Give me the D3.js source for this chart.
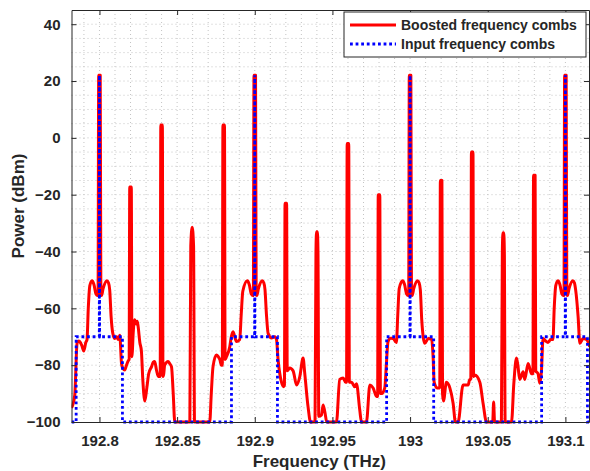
<!DOCTYPE html>
<html>
<head>
<meta charset="utf-8">
<script src="https://cdn.jsdelivr.net/npm/d3@7"></script>
<style>
  body { margin: 0; background: #fff; }
  text { font-family: "Liberation Sans", Arial, sans-serif; font-weight: bold; fill: #262626; }
</style>
</head>
<body>
<div id="chart"></div>
<script>
// Data (THz, dBm)
var boosted = [
  [192.7820,-95],[192.7828,-94],[192.7841,-90.5],[192.7856,-72.3],[192.7866,-71.5],[192.7873,-71.7],
  [192.7886,-73],[192.7899,-75],[192.7912,-72],[192.7920,-71],[192.7928,-60],[192.7938,-52],
  [192.7952,-50.3],[192.7964,-51.5],[192.7978,-55],[192.7988,-55.5],[192.7991,-55],[192.7995,22],
  [192.8005,22],[192.8009,-55],[192.8013,-55.5],[192.8024,-53],[192.8048,-50.3],[192.8058,-51],
  [192.8066,-53.5],[192.8075,-62.9],[192.8086,-68.8],[192.8099,-70.6],[192.8111,-70],[192.8121,-71],
  [192.8131,-69.5],[192.8142,-79.4],[192.8150,-81],[192.8163,-81.7],[192.8174,-80],[192.8185,-78.5],
  [192.8191,-78],[192.8195,-17.3],[192.8205,-17.3],[192.8209,-77],[192.8212,-75],[192.8216,-70],
  [192.8227,-64],[192.8237,-65.5],[192.8243,-64.5],[192.8249,-66.4],[192.8260,-72],[192.8270,-75],
  [192.8279,-85],[192.8292,-92.6],[192.8305,-88],[192.8317,-83],[192.8335,-80.6],[192.8346,-79],
  [192.8356,-78.7],[192.8367,-81.7],[192.8379,-84],[192.8391,-84],[192.8395,4.5],[192.8405,4.5],
  [192.8409,-84],[192.8414,-83],[192.8420,-80],[192.8442,-78.7],[192.8453,-79.5],[192.8464,-80.6],
  [192.8475,-90],[192.8485,-100],[192.8582,-100],[192.8588,-38],[192.8597,-31.5],[192.8606,-38],
  [192.8612,-100],[192.8710,-100],[192.8720,-90],[192.8731,-80.6],[192.8753,-76.4],[192.8765,-77],
  [192.8775,-78],[192.8785,-80],[192.8791,-80],[192.8795,4.5],[192.8805,4.5],[192.8809,-78],
  [192.8818,-77],[192.8839,-73.5],[192.8849,-70],[192.8860,-68.2],[192.8871,-70],[192.8882,-71.7],
  [192.8903,-71],[192.8913,-62],[192.8923,-54],[192.8952,-50.3],[192.8964,-51.5],[192.8978,-55],
  [192.8988,-55.5],[192.8991,-55],[192.8995,22],[192.9005,22],[192.9009,-55],[192.9013,-55.5],
  [192.9024,-53],[192.9048,-50.3],[192.9058,-51],[192.9066,-53.5],[192.9075,-62],[192.9086,-68.8],
  [192.9108,-70.4],[192.9129,-70],[192.9140,-71],[192.9150,-78],[192.9172,-86],[192.9187,-87.6],
  [192.9191,-87],[192.9195,-23],[192.9205,-23],[192.9209,-82],[192.9225,-81],[192.9247,-82],
  [192.9269,-87],[192.9290,-84],[192.9311,-77.5],[192.9322,-83],[192.9343,-94.6],[192.9359,-100],
  [192.9388,-100],[192.9394,-40],[192.9398,-33],[192.9403,-33],[192.9407,-40],[192.9412,-98],
  [192.9430,-97.5],[192.9440,-94],[192.9451,-96.4],[192.9464,-100],[192.9526,-100],[192.9547,-85],
  [192.9569,-84.5],[192.9584,-86],[192.9591,-86],[192.9595,-2],[192.9605,-2],[192.9609,-86],
  [192.9623,-86],[192.9644,-87.6],[192.9655,-86.5],[192.9676,-95.8],[192.9687,-100],[192.9719,-100],
  [192.9741,-87],[192.9762,-88],[192.9784,-91],[192.9791,-91],[192.9795,-20],[192.9805,-20],
  [192.9809,-90],[192.9818,-90],[192.9837,-88],[192.9847,-80],[192.9858,-71.7],[192.9875,-70.5],
  [192.9891,-70.6],[192.9912,-72],[192.9921,-62],[192.9930,-53],[192.9952,-50.3],[192.9964,-51.5],
  [192.9978,-55],[192.9988,-55.5],[192.9991,-55],[192.9995,22],[193.0005,22],[193.0009,-55],
  [193.0013,-55.5],[193.0024,-53],[193.0048,-50.3],[193.0058,-51],[193.0066,-53.5],[193.0075,-64],
  [193.0086,-70.6],[193.0095,-72.3],[193.0117,-70.6],[193.0139,-71],[193.0149,-78],[193.0155,-86],
  [193.0174,-88],[193.0191,-88],[193.0195,-15],[193.0205,-15],[193.0209,-90],[193.0215,-92.6],
  [193.0234,-86],[193.0256,-88],[193.0277,-93.4],[193.0292,-100],[193.0309,-100],[193.0341,-87],
  [193.0374,-87],[193.0384,-85],[193.0391,-85],[193.0395,-5],[193.0405,-5],[193.0409,-84],
  [193.0417,-83.5],[193.0449,-86],[193.0470,-93.4],[193.0492,-100],[193.0532,-100],[193.0538,-93],
  [193.0544,-100],[193.0588,-100],[193.0594,-40],[193.0598,-33.4],[193.0603,-33.4],[193.0607,-40],
  [193.0612,-100],[193.0653,-100],[193.0668,-86.4],[193.0685,-77.5],[193.0694,-80],[193.0706,-85],
  [193.0728,-82.3],[193.0738,-85],[193.0760,-79.4],[193.0782,-83],[193.0791,-83],[193.0795,-13.2],
  [193.0805,-13.2],[193.0809,-82],[193.0824,-83],[193.0835,-86.4],[193.0846,-82],[193.0856,-70.6],
  [193.0873,-71.5],[193.0888,-72],[193.0905,-71],[193.0920,-71],[193.0928,-60],[193.0938,-52],
  [193.0952,-50.3],[193.0964,-51.5],[193.0978,-55],[193.0988,-55.5],[193.0991,-55],[193.0995,22],
  [193.1005,22],[193.1009,-55],[193.1013,-55.5],[193.1024,-53],[193.1048,-50.3],[193.1058,-51],
  [193.1066,-53.5],[193.1082,-63],[193.1093,-72.3],[193.1114,-70.6],[193.1136,-71],[193.1157,-73.5]
];

var input = [
  [192.7820,-100],[192.7850,-100],[192.7850,-70],[192.7999,-70],[192.8000,22],[192.8001,-70],
  [192.8148,-70],[192.8148,-100],[192.8850,-100],[192.8850,-70],[192.8999,-70],[192.9000,22],
  [192.9001,-70],[192.9146,-70],[192.9146,-100],[192.9849,-100],[192.9849,-70],[192.9999,-70],
  [193.0000,22],[193.0001,-70],[193.0152,-70],[193.0152,-100],[193.0847,-100],[193.0847,-70],
  [193.0999,-70],[193.1000,22],[193.1001,-70],[193.1142,-70],[193.1142,-100],[193.1170,-100]
];

var xTicks = [192.8, 192.85, 192.9, 192.95, 193, 193.05, 193.1];
var xTickLabels = ["192.8", "192.85", "192.9", "192.95", "193", "193.05", "193.1"];
var yTicks = [-100, -80, -60, -40, -20, 0, 20, 40];
var seriesNames = ["Boosted frequency combs", "Input frequency combs"];

var svgWidth = 590;
var svgHeight = 471;
var margin = { top: 10, right: 1, bottom: 49, left: 71.5 };
var width = svgWidth - margin.left - margin.right;
var height = svgHeight - margin.top - margin.bottom;

var svg = d3.select("#chart")
  .append("svg")
  .attr("width", svgWidth)
  .attr("height", svgHeight);

var chartGroup = svg.append("g")
  .attr("transform", `translate(${margin.left}, ${margin.top})`);

var xScale = d3.scaleLinear().domain([192.782, 193.1152]).range([0, width]);
var yScale = d3.scaleLinear().domain([-100, 45]).range([height, 0]);

// dotted grid (minor spacing)
var gridColor = "#c4c4c4";
chartGroup.append("g").selectAll("line")
  .data(d3.range(192.79, 193.115, 0.01))
  .enter().append("line")
  .attr("x1", d => xScale(d)).attr("x2", d => xScale(d))
  .attr("y1", 0).attr("y2", height)
  .attr("stroke", gridColor).attr("stroke-width", 1).attr("stroke-dasharray", "1,3");

chartGroup.append("g").selectAll("line")
  .data(d3.range(-95, 45, 5))
  .enter().append("line")
  .attr("x1", 0).attr("x2", width)
  .attr("y1", d => yScale(d)).attr("y2", d => yScale(d))
  .attr("stroke", gridColor).attr("stroke-width", 1).attr("stroke-dasharray", "1,3");

// clip to axes in x, let floor lines show fully
svg.append("clipPath").attr("id", "plotclip")
  .append("rect").attr("x", 0).attr("y", -3).attr("width", width).attr("height", height + 6);

var lineRed = d3.line()
  .x(d => xScale(d[0]))
  .y(d => yScale(d[1]))
  .curve(d3.curveMonotoneX);

var lineBlue = d3.line()
  .x(d => xScale(d[0]))
  .y(d => yScale(d[1]));

var plot = chartGroup.append("g").attr("clip-path", "url(#plotclip)");

plot.append("path")
  .datum(boosted)
  .attr("fill", "none")
  .attr("stroke", "#ff0000")
  .attr("stroke-width", 3)
  .attr("stroke-linejoin", "round")
  .attr("d", lineRed);

plot.append("path")
  .datum(input)
  .attr("fill", "none")
  .attr("stroke", "#0000ff")
  .attr("stroke-width", 2.8)
  .attr("stroke-dasharray", "2.8,2.8")
  .attr("d", lineBlue);

// axes, ticks inward on all four sides
var bottomAxis = d3.axisBottom(xScale).tickValues(xTicks)
  .tickFormat((d, i) => xTickLabels[i]).tickSizeInner(-5).tickSizeOuter(0).tickPadding(13);
var topAxis = d3.axisTop(xScale).tickValues(xTicks).tickFormat("").tickSizeInner(-5).tickSizeOuter(0);
var leftAxis = d3.axisLeft(yScale).tickValues(yTicks).tickSizeInner(-5).tickSizeOuter(0).tickPadding(11);
var rightAxis = d3.axisRight(yScale).tickValues(yTicks).tickFormat("").tickSizeInner(-5).tickSizeOuter(0);

var gx = chartGroup.append("g").attr("transform", `translate(0, ${height})`).call(bottomAxis);
var gt = chartGroup.append("g").call(topAxis);
var gy = chartGroup.append("g").call(leftAxis);
var gr = chartGroup.append("g").attr("transform", `translate(${width}, 0)`).call(rightAxis);

[gx, gt, gy, gr].forEach(function(g) {
  g.select(".domain").attr("stroke", "#262626").attr("stroke-width", 1);
  g.selectAll(".tick line").attr("stroke", "#262626");
  g.selectAll("text").attr("font-size", "15px").attr("font-family", null).attr("fill", "#262626");
});

// axis labels
chartGroup.append("text")
  .attr("transform", "rotate(-90)")
  .attr("x", 0 - (height / 2) + 10)
  .attr("y", 0 - margin.left + 24)
  .attr("text-anchor", "middle")
  .attr("font-size", "17px")
  .text("Power (dBm)");

chartGroup.append("text")
  .attr("x", width / 2 - 11)
  .attr("y", height + 45)
  .attr("text-anchor", "middle")
  .attr("font-size", "17px")
  .text("Frequency (THz)");

// legend
var legend = svg.append("g").attr("transform", "translate(344, 12)");
legend.append("rect")
  .attr("width", 242).attr("height", 45)
  .attr("fill", "#fff").attr("stroke", "#262626").attr("stroke-width", 1);

var legendStyles = [
  { color: "#ff0000", dash: null },
  { color: "#0000ff", dash: "2.8,2.8" }
];

seriesNames.forEach(function(name, i) {
  var yy = 13 + i * 19;
  legend.append("line")
    .attr("x1", 6).attr("x2", 52).attr("y1", yy).attr("y2", yy)
    .attr("stroke", legendStyles[i].color).attr("stroke-width", 2.8)
    .attr("stroke-dasharray", legendStyles[i].dash);
  legend.append("text")
    .attr("x", 57).attr("y", yy + 5)
    .attr("font-size", "14px")
    .text(name);
});
</script>
</body>
</html>
